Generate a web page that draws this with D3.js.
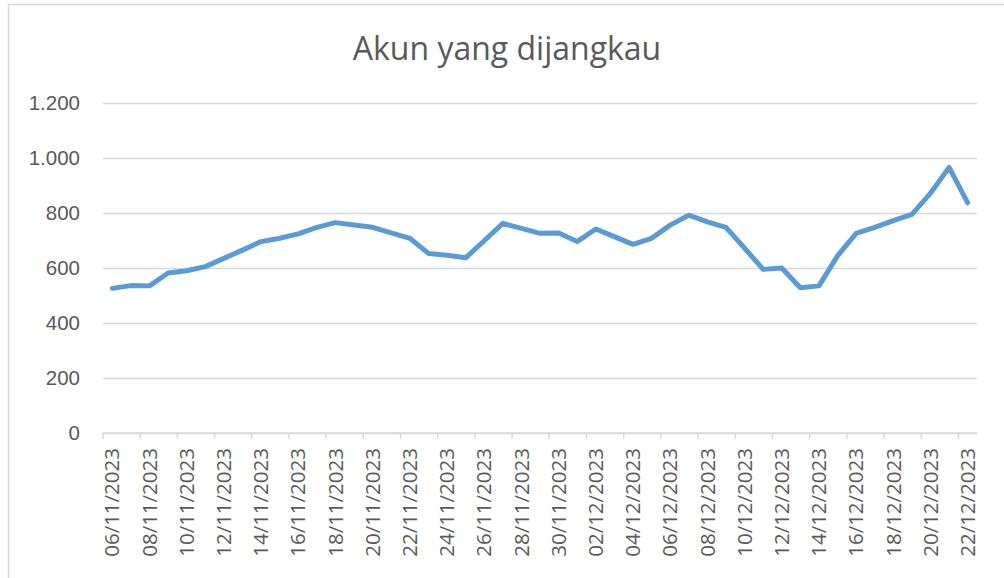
<!DOCTYPE html>
<html>
<head>
<meta charset="utf-8">
<script src="https://cdn.jsdelivr.net/npm/d3@7"></script>
<style>
  html, body { margin: 0; padding: 0; background: #fff; }
  svg { display: block; font-family: "Open Sans", sans-serif; }
</style>
</head>
<body>
<div id="chart"></div>
<script>
let title = "Akun yang dijangkau";

let dates = [
  "06/11/2023", "07/11/2023", "08/11/2023", "09/11/2023", "10/11/2023", "11/11/2023",
  "12/11/2023", "13/11/2023", "14/11/2023", "15/11/2023", "16/11/2023", "17/11/2023",
  "18/11/2023", "19/11/2023", "20/11/2023", "21/11/2023", "22/11/2023", "23/11/2023",
  "24/11/2023", "25/11/2023", "26/11/2023", "27/11/2023", "28/11/2023", "29/11/2023",
  "30/11/2023", "01/12/2023", "02/12/2023", "03/12/2023", "04/12/2023", "05/12/2023",
  "06/12/2023", "07/12/2023", "08/12/2023", "09/12/2023", "10/12/2023", "11/12/2023",
  "12/12/2023", "13/12/2023", "14/12/2023", "15/12/2023", "16/12/2023", "17/12/2023",
  "18/12/2023", "19/12/2023", "20/12/2023", "21/12/2023", "22/12/2023"
];

let reach = [
  526, 536, 535, 582, 590, 605, 635, 665, 696, 708, 724, 748,
  765, 756, 748, 728, 708, 653, 646, 637, 699, 762, 744, 726,
  727, 696, 742, 714, 686, 708, 756, 792, 768, 748, 672, 595,
  600, 528, 535, 644, 726, 748, 772, 795, 872, 966, 837
];

let yTicks = [0, 200, 400, 600, 800, 1000, 1200];

let width = 1004;
let height = 578;
let margin = { top: 103, bottom: 145, left: 103, right: 27 };

let svg = d3.select('#chart')
  .append('svg')
    .attr('width', width)
    .attr('height', height);

// chart area border
svg.append('rect')
  .attr('x', 8.5)
  .attr('y', 4.5)
  .attr('width', width + 10)
  .attr('height', height + 10)
  .attr('fill', '#fff')
  .attr('stroke', '#d9d9d9')
  .attr('stroke-width', 1.5);

let xScale = d3.scaleBand()
  .domain(dates)
  .range([margin.left, width - margin.right])
  .padding(0);

let yScale = d3.scaleLinear()
  .domain([0, 1200])
  .range([height - margin.bottom, margin.top]);

// title
svg.append('text')
  .attr('x', (margin.left + width - margin.right) / 2 - 33)
  .attr('y', 60)
  .attr('text-anchor', 'middle')
  .attr('fill', '#595959')
  .style('font-size', '32px')
  .text(title);

// gridlines + y labels
let yAxis = d3.axisLeft(yScale)
  .tickValues(yTicks)
  .tickSize(-(width - margin.left - margin.right))
  .tickPadding(23)
  .tickFormat(d => d3.format(',')(d).replace(/,/g, '.'));

let gy = svg.append('g')
  .attr('class', 'y axis')
  .attr('transform', 'translate(' + margin.left + ',0)')
  .call(yAxis);
gy.select('.domain').remove();
gy.selectAll('.tick line')
  .attr('stroke', '#d9d9d9')
  .attr('stroke-width', 1.5);
gy.selectAll('.tick text')
  .attr('fill', '#595959')
  .style('font-size', '20.5px');

// x axis
let baseY = yScale(0);
let gx = svg.append('g').attr('class', 'x axis');

gx.append('line')
  .attr('x1', margin.left)
  .attr('x2', width - margin.right)
  .attr('y1', baseY)
  .attr('y2', baseY)
  .attr('stroke', '#d9d9d9')
  .attr('stroke-width', 1.5);

let shown = dates.filter((d, i) => i % 2 === 0);

gx.selectAll('.tk')
  .data(shown)
  .enter()
  .append('line')
    .attr('class', 'tk')
    .attr('x1', d => xScale(d))
    .attr('x2', d => xScale(d))
    .attr('y1', baseY)
    .attr('y2', baseY + 6)
    .attr('stroke', '#d9d9d9')
    .attr('stroke-width', 1.5);

gx.selectAll('.lbl')
  .data(shown)
  .enter()
  .append('text')
    .attr('class', 'lbl')
    .attr('transform', d => 'translate(' + (xScale(d) + xScale.bandwidth() / 2) + ',' + (baseY + 15) + ') rotate(-90)')
    .attr('text-anchor', 'end')
    .attr('dy', '0.35em')
    .attr('fill', '#595959')
    .style('font-size', '20.5px')
    .text(d => d);

// the line
let line = d3.line()
  .x((d, i) => xScale(dates[i]) + xScale.bandwidth() / 2)
  .y(d => yScale(d));

svg.append('path')
  .datum(reach)
  .attr('fill', 'none')
  .attr('stroke', '#5b9bd5')
  .attr('stroke-width', 5)
  .attr('stroke-linejoin', 'round')
  .attr('stroke-linecap', 'round')
  .attr('d', line);
</script>
</body>
</html>
